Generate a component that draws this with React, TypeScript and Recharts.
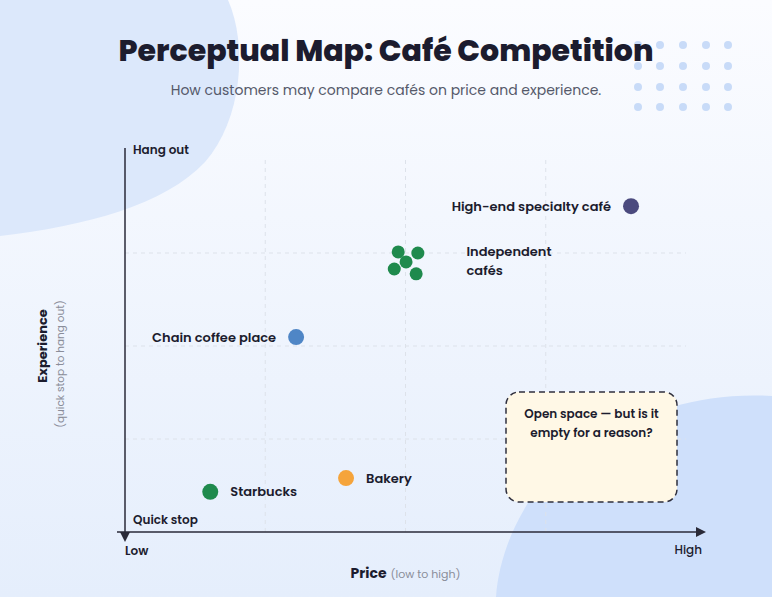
import React from "react";
import {
    ScatterChart,
    Scatter,
    XAxis,
    YAxis,
    ReferenceLine,
} from "recharts";

// Points, price & experience on a 0-100 scale
const brandNames = ["High-end specialty café", "Chain coffee place", "Starbucks", "Bakery"];
const brandPrice = [90.2, 30.5, 15.2, 39.4];
const brandExperience = [87.6, 52.4, 10.8, 14.5];

const independentPrice = [48.7, 52.2, 50.1, 48.0, 51.9];
const independentExperience = [75.3, 75.0, 72.6, 70.7, 69.4];
const independentLabel = ["Independent", "cafés"];

const gridTicks = [25, 50, 75];

const brandStyles = [
    { color: "#4b4a7e", side: "left" },
    { color: "#4f86c6", side: "left" },
    { color: "#1f8a4d", side: "right" },
    { color: "#f5a43b", side: "right" },
];

const W = 772;
const H = 597;
const margin = { top: 160, right: 86, bottom: 65, left: 125 };
const plotLeft = margin.left;
const plotRight = W - margin.right;
const plotTop = margin.top;
const plotBottom = H - margin.bottom;

const FONT = "Poppins, Inter, 'Noto Sans', sans-serif";
const INK = "#1c1c2e";

function BrandShape(props: any) {
    const { cx, cy, payload } = props;
    const style = brandStyles[payload.idx];
    const left = style.side === "left";
    return (
        <g>
            <circle cx={cx} cy={cy} r={8} fill={style.color} />
            <text
                x={left ? cx - 20 : cx + 20}
                y={cy}
                dy="0.35em"
                textAnchor={left ? "end" : "start"}
                fontFamily={FONT}
                fontSize={13}
                fontWeight={600}
                fill={INK}
            >
                {payload.name}
            </text>
        </g>
    );
}

function ClusterDot(props: any) {
    const { cx, cy } = props;
    return <circle cx={cx} cy={cy} r={6.5} fill="#1f8a4d" />;
}

function ClusterLabel(props: any) {
    const { cx, cy } = props;
    return (
        <g>
            {independentLabel.map((t, i) => (
                <text
                    key={t}
                    x={cx + 60}
                    y={cy - 10 + i * 18.5}
                    dy="0.35em"
                    fontFamily={FONT}
                    fontSize={13}
                    fontWeight={600}
                    fill={INK}
                >
                    {t}
                </text>
            ))}
        </g>
    );
}

export default function App() {
    const brandData = brandNames.map((name, idx) => ({
        name,
        idx,
        price: brandPrice[idx],
        experience: brandExperience[idx],
    }));
    const clusterData = independentPrice.map((p, i) => ({
        price: p,
        experience: independentExperience[i],
    }));
    const centroid = [
        {
            price: independentPrice.reduce((a, b) => a + b, 0) / independentPrice.length,
            experience: independentExperience.reduce((a, b) => a + b, 0) / independentExperience.length,
        },
    ];

    const dotCols = [638, 660, 683, 706, 728];
    const dotRows = [45, 66, 87, 107];

    return (
        <div
            style={{
                position: "absolute",
                left: 0,
                top: 0,
                width: W,
                height: H,
                overflow: "hidden",
                fontFamily: FONT,
            }}
        >
            {/* background + blobs */}
            <svg width={W} height={H} style={{ position: "absolute", left: 0, top: 0 }}>
                <defs>
                    <linearGradient id="bg" x1="0" y1="0" x2="0" y2="1">
                        <stop offset="0%" stopColor="#fbfcff" />
                        <stop offset="100%" stopColor="#e5eefc" />
                    </linearGradient>
                </defs>
                <rect width={W} height={H} fill="url(#bg)" />
                <path d="M0,0 L228,0 C248,45 242,120 205,162 C165,205 85,226 0,236 Z" fill="#dce8fb" />
                <path d="M496,597 C500,540 535,470 598,438 C650,410 705,392 772,396 L772,597 Z" fill="#cfe0fb" />
                {dotRows.map((y) =>
                    dotCols.map((x) => <circle key={`${x}-${y}`} cx={x} cy={y} r={4} fill="#c8dbf8" />)
                )}
            </svg>

            <div style={{ position: "absolute", left: 0, top: 0 }}>
                <ScatterChart width={W} height={H} margin={margin}>
                    <XAxis type="number" dataKey="price" domain={[0, 100]} hide />
                    <YAxis type="number" dataKey="experience" domain={[0, 100]} hide />
                    {gridTicks.map((t) => (
                        <ReferenceLine key={`x${t}`} x={t} stroke="#dde2ea" strokeDasharray="4 4" />
                    ))}
                    {gridTicks.map((t) => (
                        <ReferenceLine key={`y${t}`} y={t} stroke="#dde2ea" strokeDasharray="4 4" />
                    ))}
                    <Scatter data={clusterData} shape={ClusterDot} isAnimationActive={false} />
                    <Scatter data={centroid} shape={ClusterLabel} isAnimationActive={false} />
                    <Scatter data={brandData} shape={BrandShape} isAnimationActive={false} />
                </ScatterChart>
            </div>

            {/* axes, titles, callout */}
            <svg width={W} height={H} style={{ position: "absolute", left: 0, top: 0, pointerEvents: "none" }}>
                <text x={386} y={61} textAnchor="middle" fontFamily={FONT} fontSize={30} fontWeight={800} fill={INK}>
                    Perceptual Map: Café Competition
                </text>
                <text x={386} y={95} textAnchor="middle" fontFamily={FONT} fontSize={14} fill="#55596a">
                    How customers may compare cafés on price and experience.
                </text>

                {/* y axis with arrow at the bottom */}
                <line x1={plotLeft} y1={plotTop - 12} x2={plotLeft} y2={plotBottom + 2} stroke="#2a2a38" strokeWidth={1.5} />
                <path d={`M${plotLeft - 5},${plotBottom} L${plotLeft + 5},${plotBottom} L${plotLeft},${plotBottom + 10} Z`} fill="#2a2a38" />
                {/* x axis with arrow at the right */}
                <line x1={plotLeft - 8} y1={plotBottom} x2={plotRight + 12} y2={plotBottom} stroke="#2a2a38" strokeWidth={1.5} />
                <path d={`M${plotRight + 10},${plotBottom - 5} L${plotRight + 10},${plotBottom + 5} L${plotRight + 20},${plotBottom} Z`} fill="#2a2a38" />

                <text x={plotLeft + 8} y={150} dy="0.35em" fontFamily={FONT} fontSize={12} fontWeight={600} fill={INK}>
                    Hang out
                </text>
                <text x={plotLeft + 8} y={520} dy="0.35em" fontFamily={FONT} fontSize={12} fontWeight={600} fill={INK}>
                    Quick stop
                </text>
                <text x={plotLeft} y={551} dy="0.35em" fontFamily={FONT} fontSize={12} fontWeight={600} fill={INK}>
                    Low
                </text>
                <text x={702} y={550} dy="0.35em" textAnchor="end" fontFamily={FONT} fontSize={12} fontWeight={500} fill={INK}>
                    High
                </text>

                <text x={(plotLeft + plotRight) / 2} y={572} dy="0.35em" textAnchor="middle" fontFamily={FONT} fill={INK}>
                    <tspan fontSize={14} fontWeight={700}>Price</tspan>
                    <tspan fontSize={11} fill="#8a8d99" dx={4}>(low to high)</tspan>
                </text>

                <g transform="translate(42,346) rotate(-90)">
                    <text textAnchor="middle" dy="0.35em" fontFamily={FONT} fontSize={13} fontWeight={700} fill={INK}>
                        Experience
                    </text>
                </g>
                <g transform="translate(60,364) rotate(-90)">
                    <text textAnchor="middle" dy="0.35em" fontFamily={FONT} fontSize={10.5} fill="#8a8d99">
                        (quick stop to hang out)
                    </text>
                </g>

                <rect x={506} y={392} width={171} height={110} rx={13} fill="#fff8e6" stroke="#2f2f3d" strokeWidth={1.5} strokeDasharray="6 4" />
                <text x={591.5} y={414} dy="0.35em" textAnchor="middle" fontFamily={FONT} fontSize={12} fontWeight={600} fill={INK}>
                    Open space — but is it
                </text>
                <text x={591.5} y={433} dy="0.35em" textAnchor="middle" fontFamily={FONT} fontSize={12} fontWeight={600} fill={INK}>
                    empty for a reason?
                </text>
            </svg>
        </div>
    );
}
